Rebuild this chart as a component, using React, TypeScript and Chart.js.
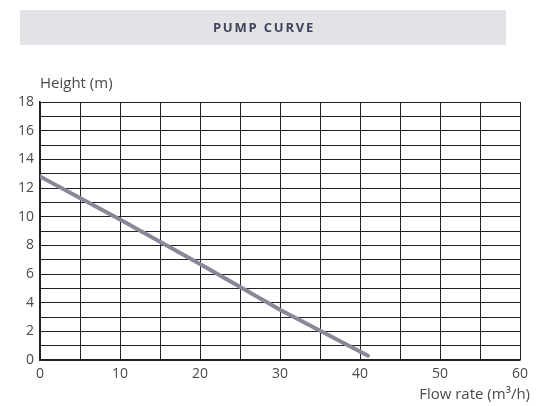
import React, { useEffect, useRef } from "react";
import { Chart, registerables } from "chart.js";

Chart.register(...registerables);

const TITLE = "PUMP CURVE";
const Y_LABEL = "Height (m)";
const X_LABEL = "Flow rate (m³/h)";
const flowRates = [0, 10, 20, 30, 41];
const heights = [12.8, 9.8, 6.7, 3.5, 0.3];
const X_MIN = 0, X_MAX = 60, X_GRID = 5, X_LABEL_STEP = 10;
const Y_MIN = 0, Y_MAX = 18, Y_GRID = 1, Y_LABEL_STEP = 2;

const FONT = "'Open Sans', sans-serif";
const TEXT_COLOR = "#4a4a4a";
const GRID_COLOR = "#222222";

const decorPlugin = {
  id: "decor",
  beforeDraw(chart: any) {
    const { ctx, chartArea } = chart;
    ctx.save();
    ctx.fillStyle = "#e3e3e7";
    ctx.fillRect(20, 10, 486, 35);
    ctx.fillStyle = "#3f4359";
    ctx.font = `bold 13px ${FONT}`;
    (ctx as any).letterSpacing = "1.8px";
    ctx.textAlign = "center";
    ctx.textBaseline = "middle";
    ctx.fillText(TITLE, 264, 28);
    (ctx as any).letterSpacing = "0px";
    ctx.fillStyle = TEXT_COLOR;
    ctx.font = `15px ${FONT}`;
    ctx.textAlign = "left";
    ctx.textBaseline = "alphabetic";
    ctx.fillText(Y_LABEL, chartArea.left, 88);
    ctx.textAlign = "right";
    ctx.fillText(X_LABEL, 530, 399);
    ctx.restore();
  },
};

export default function App() {
  const ref = useRef<HTMLCanvasElement>(null);
  useEffect(() => {
    document.body.style.margin = "0";
    const chart = new Chart(ref.current as HTMLCanvasElement, {
      type: "scatter",
      data: {
        datasets: [
          {
            data: flowRates.map((x, i) => ({ x, y: heights[i] })),
            showLine: true,
            borderColor: "#8a8898",
            borderWidth: 4,
            pointRadius: 0,
            borderCapStyle: "round",
          } as any,
        ],
      },
      options: {
        animation: false,
        responsive: false,
        layout: { padding: { top: 102, right: 21, left: 0, bottom: 0 } },
        plugins: { legend: { display: false }, tooltip: { enabled: false }, title: { display: false } },
        scales: {
          x: {
            type: "linear",
            min: X_MIN,
            max: X_MAX,
            afterFit(scale: any) {
              scale.height = 46;
            },
            grid: { color: GRID_COLOR, lineWidth: 1, drawTicks: false },
            border: { color: GRID_COLOR, width: 1.5 },
            ticks: {
              stepSize: X_GRID,
              autoSkip: false,
              maxRotation: 0,
              padding: 6,
              color: TEXT_COLOR,
              font: { family: FONT, size: 14 },
              callback: (v: any) => (Number(v) % X_LABEL_STEP === 0 ? String(v) : ""),
            },
          },
          y: {
            type: "linear",
            min: Y_MIN,
            max: Y_MAX,
            afterFit(scale: any) {
              scale.width = 40;
            },
            grid: { color: GRID_COLOR, lineWidth: 1, drawTicks: false },
            border: { color: GRID_COLOR, width: 1.5 },
            ticks: {
              stepSize: Y_GRID,
              autoSkip: false,
              padding: 6,
              color: TEXT_COLOR,
              font: { family: FONT, size: 14 },
              callback: (v: any) => (Number(v) % Y_LABEL_STEP === 0 ? String(v) : ""),
            },
          },
        },
      },
      plugins: [decorPlugin],
    });
    return () => chart.destroy();
  }, []);
  return (
    <div style={{ position: "absolute", left: 0, top: 0, width: 541, height: 406, background: "#fff" }}>
      <canvas ref={ref} width={541} height={406} style={{ width: 541, height: 406 }} />
    </div>
  );
}
